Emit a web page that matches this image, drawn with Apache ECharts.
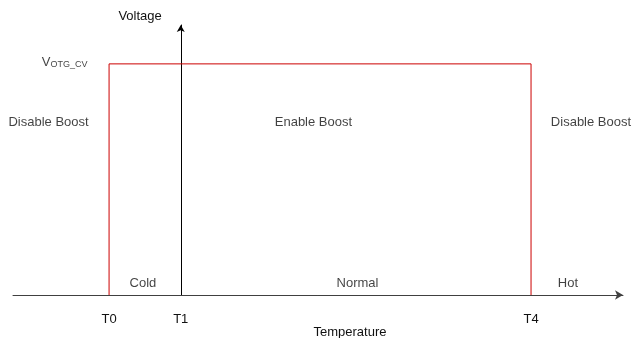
<!DOCTYPE html>
<html>
<head>
<meta charset="utf-8">
<script src="https://cdn.jsdelivr.net/npm/echarts@6/dist/echarts.min.js"></script>
<style>
    html, body { margin: 0; padding: 0; background: #fff; }
    #chart { width: 632px; height: 338px; }
</style>
</head>
<body>
<div id="chart"></div>
<script>
// 温度点 (T1 放在原点, y 轴穿过它)
var tickNames = ['T0', 'T1', 'T4'];
var tickValues = [-4.7, 0, 22.97];
// 升压输出电压
var vOtgCv = 8.56;
// 红色折线: T0 升到 VOTG_CV, 到 T4 再降回 0
var boostX = [-4.7, -4.7, 22.97, 22.97];
var boostY = [0, 8.56, 8.56, 0];
// 区域文字
var regionNames = ['Disable Boost', 'Enable Boost', 'Disable Boost', 'Cold', 'Normal', 'Hot'];
var regionX = [-8.67, 8.7, 26.9, -2.48, 11.59, 25.39];
var regionY = [6.4, 6.4, 6.4, 0.44, 0.44, 0.44];

var chart = echarts.init(document.getElementById('chart'));

var boostData = boostX.map(function (x, i) { return [x, boostY[i]]; });
var regionData = regionNames.map(function (n, i) { return { name: n, value: [regionX[i], regionY[i]] }; });

var option = {
    animation: false,
    textStyle: { fontFamily: 'Liberation Sans, Arial, sans-serif', color: '#111' },
    grid: { left: 13, right: 9, top: 25, bottom: 43, containLabel: false, outerBoundsMode: 'none' },
    xAxis: {
        type: 'value',
        min: -11,
        max: 29,
        name: 'Temperature',
        nameLocation: 'middle',
        nameGap: 31,
        nameMoveOverlap: false,
        nameTextStyle: { fontSize: 13, color: '#111', verticalAlign: 'top', padding: [0, 0, 0, 64] },
        axisLine: { show: true, symbol: ['none', 'arrow'], symbolSize: [7, 8], lineStyle: { color: '#404040', width: 1 } },
        axisTick: { show: false },
        splitLine: { show: false },
        axisLabel: {
            customValues: tickValues,
            margin: 18,
            fontSize: 13,
            color: '#111',
            formatter: function (v) {
                var i = tickValues.indexOf(v);
                return i >= 0 ? tickNames[i] : '';
            }
        }
    },
    yAxis: {
        type: 'value',
        min: 0,
        max: 10,
        name: 'Voltage',
        nameLocation: 'end',
        nameGap: 2,
        nameTextStyle: { fontSize: 13, color: '#111', align: 'right', padding: [0, 19, 0, 0] },
        axisLine: { show: true, onZero: true, symbol: ['none', 'arrow'], symbolSize: [6, 7], lineStyle: { color: '#000', width: 1 } },
        axisTick: { show: false },
        axisLabel: { show: false },
        splitLine: { show: false }
    },
    series: [
        {
            type: 'line',
            data: boostData,
            symbol: 'none',
            lineStyle: { color: '#cc0000', width: 1 },
            z: 3
        },
        {
            // 区域说明文字
            type: 'scatter',
            data: regionData,
            symbolSize: 0,
            label: {
                show: true,
                position: 'inside',
                fontSize: 13,
                color: '#111',
                textBorderWidth: 0,
                formatter: '{b}'
            }
        },
        {
            // VOTG_CV 标签
            type: 'scatter',
            data: [[-7.62, vOtgCv]],
            symbolSize: 0,
            label: {
                show: true,
                position: 'inside',
                offset: [0, -2],
                textBorderWidth: 0,
                formatter: '{a|V}{b|OTG_CV}',
                rich: {
                    a: { fontSize: 13, color: '#111', verticalAlign: 'bottom', lineHeight: 14, textBorderWidth: 0 },
                    b: { fontSize: 9, color: '#111', verticalAlign: 'bottom', lineHeight: 14, textBorderWidth: 0 }
                }
            }
        }
    ]
};
chart.setOption(option);
</script>
</body>
</html>
